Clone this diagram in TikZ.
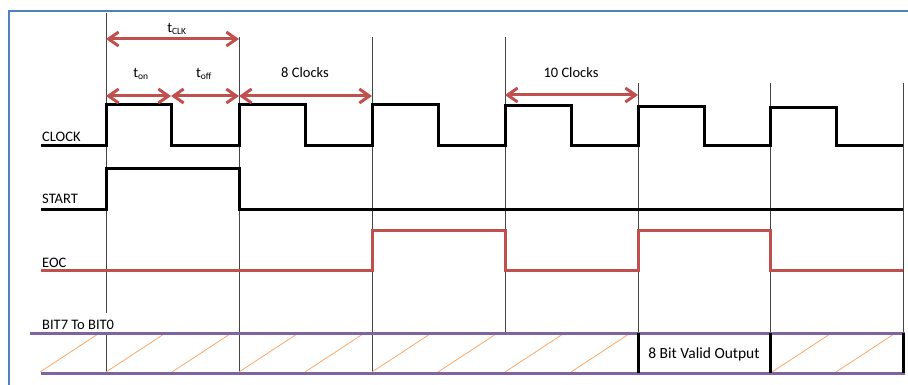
\documentclass[tikz,border=0pt]{standalone}
\usepackage{fontspec}
\setmainfont{Carlito}
\usetikzlibrary{arrows.meta}
\definecolor{frameblue}{HTML}{4F81BD}
\definecolor{arrred}{HTML}{C0504D}
\definecolor{buspurple}{HTML}{8064A2}
\definecolor{hatchorange}{HTML}{F9A868}
\definecolor{guidegray}{HTML}{444444}
\begin{document}
\begin{tikzpicture}[x=1pt,y=-1pt,
  sig/.style={line width=3pt,line join=miter},
  guide/.style={guidegray,line width=1pt},
  dim/.style={arrred,line width=3pt,{Straight Barb[length=10pt,width=14pt]}-{Straight Barb[length=10pt,width=14pt]}},
  lbl/.style={anchor=base west,inner sep=0pt,font=\fontsize{14.5}{16}\selectfont},
  dlbl/.style={inner sep=0pt,font=\fontsize{14.5}{16}\selectfont},
  hatch/.style={hatchorange,line width=0.8pt},
  bus/.style={buspurple,line width=3pt},
  boxv/.style={black,line width=3pt}]
\useasboundingbox (0,0) rectangle (908,385);
% frame
\draw[frameblue,line width=2pt] (9,385) -- (9,11) -- (908,11);
% guide lines
\draw[guide] (106,13) -- (106,313) (106,333) -- (106,373);
\draw[guide] (239,37) -- (239,373);
\draw[guide] (372,37) -- (372,373);
\draw[guide] (505,37) -- (505,333);
\draw[guide] (638,83) -- (638,333);
\draw[guide] (770,83) -- (770,333);
\draw[guide] (903,83) -- (903,333);
% CLOCK
\draw[sig] (41,146) -- (106,146) -- (106,105) -- (171,105) -- (171,146) -- (239,146)
  -- (239,105) -- (305,105) -- (305,146) -- (372,146) -- (372,105) -- (438,105)
  -- (438,146) -- (505,146) -- (505,106) -- (571,106) -- (571,146) -- (638,146)
  -- (638,107) -- (704,107) -- (704,146) -- (770,146) -- (770,108) -- (836,108)
  -- (836,146) -- (903,146);
% START
\draw[sig] (41,209) -- (106,209) -- (106,169) -- (239,169) -- (239,209) -- (903,209);
% EOC
\draw[sig,arrred] (41,270) -- (372,270) -- (372,230) -- (505,230) -- (505,270)
  -- (638,270) -- (638,230) -- (770,230) -- (770,270) -- (903,270);
% labels
\node[lbl] (clk) at (42,142) {CLOCK};
\node[lbl] (start) at (42,204) {START};
\node[lbl] (eoc) at (42,267) {EOC};
\node[lbl] (bits) at (42,329) {BIT7 To BIT0};
% dimension arrows
\coordinate (a0) at (106,39);
\coordinate (a1) at (239,39);
\draw[dim] (a0) -- (a1);
\node[dlbl] (tclk) at (177,29) {t\textsubscript{\fontsize{9.5}{10}\selectfont CLK}};
\coordinate (b0) at (106,96);
\coordinate (b1) at (171,96);
\coordinate (b2) at (239,96);
\coordinate (b3) at (372,96);
\draw[dim] (b0) -- (b1);
\draw[dim] (b1) -- (b2);
\draw[dim] (b2) -- (b3);
\node[dlbl] (ton) at (141,74) {t\textsubscript{\fontsize{9.5}{10}\selectfont on}};
\node[dlbl] (toff) at (204,74) {t\textsubscript{\fontsize{9.5}{10}\selectfont off}};
\node[dlbl] (eight) at (305,73) {8 Clocks};
\coordinate (c0) at (505,95);
\coordinate (c1) at (638,95);
\draw[dim] (c0) -- (c1);
\node[dlbl] (ten) at (571,73) {10 Clocks};
% bus hatching
\foreach \x in {40,106,172,239,305,372,438,505,571,772,836}
  \draw[hatch] (\x,372) -- (\x+58,334);
% bus lines
\draw[bus] (30,333) -- (905,333);
\draw[bus] (41,373) -- (905,373);
\draw[boxv] (638,333) -- (638,373);
\draw[boxv] (770,333) -- (770,373);
\draw[boxv] (903,333) -- (903,373);
\node[dlbl,font=\fontsize{15.5}{17}\selectfont] (valid) at (704,354) {8 Bit Valid Output};
\end{tikzpicture}
\end{document}
